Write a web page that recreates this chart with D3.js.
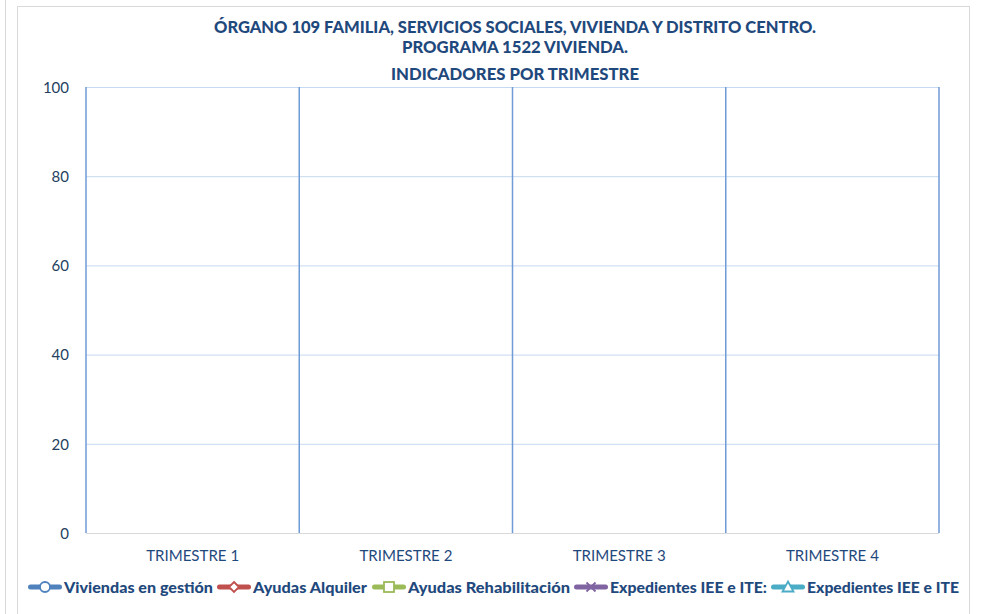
<!DOCTYPE html>
<html><head><meta charset="utf-8">
<script src="https://cdn.jsdelivr.net/npm/d3@7"></script>
<style>body{margin:0;background:#fff}svg{display:block}</style>
</head><body>
<svg id="c" width="981" height="614"></svg>
<script>
const titleLines = ["ÓRGANO 109 FAMILIA, SERVICIOS SOCIALES, VIVIENDA Y DISTRITO CENTRO.", "PROGRAMA 1522 VIVIENDA.", "INDICADORES POR TRIMESTRE"];
const categories = ["TRIMESTRE 1", "TRIMESTRE 2", "TRIMESTRE 3", "TRIMESTRE 4"];
const yTicks = [0, 20, 40, 60, 80, 100];
const seriesNames = ["Viviendas en gestión", "Ayudas Alquiler", "Ayudas Rehabilitación", "Expedientes IEE e ITE:", "Expedientes IEE e ITE"];
const seriesColors = ["#4f81bd", "#c0504d", "#9bbb59", "#8064a2", "#4bacc6"];
const seriesMarkers = ["circle", "diamond", "square", "cross", "triangle"];
const viviendas = [null, null, null, null];
const ayudasAlquiler = [null, null, null, null];
const ayudasRehab = [null, null, null, null];
const expedientes1 = [null, null, null, null];
const expedientes2 = [null, null, null, null];
const seriesValues = [viviendas, ayudasAlquiler, ayudasRehab, expedientes1, expedientes2];

const svg = d3.select("#c");
const textColor = "#1f497d";
const font = "Lato, 'Open Sans', sans-serif";

// outer frames
svg.append("line").attr("x1",5.5).attr("x2",5.5).attr("y1",0).attr("y2",614).attr("stroke","#d9d9d9");
svg.append("rect").attr("x",17.5).attr("y",6.5).attr("width",952).attr("height",640)
  .attr("fill","none").attr("stroke","#d9d9d9");

const x = d3.scaleBand().domain(categories).range([86, 939]).padding(0);
const y = d3.scaleLinear().domain([0, 100]).range([533, 87]);

// title
const titleW = [602, 226, 248];
const titleY = [33, 53, 80];
titleLines.forEach((t,i)=>{
  svg.append("text").attr("x",515).attr("y",titleY[i]).attr("text-anchor","middle")
    .attr("font-family",font).attr("font-weight","900").attr("font-size",16)
    .attr("fill",textColor).attr("textLength",titleW[i]).attr("lengthAdjust","spacingAndGlyphs").text(t);
});

// horizontal gridlines
const g = svg.append("g");
g.selectAll("line.h").data(yTicks.filter(d=>d>0)).join("line")
  .attr("x1",86).attr("x2",939).attr("y1",d=>y(d)+0.5).attr("y2",d=>y(d)+0.5)
  .attr("stroke","#c6d9f1").attr("stroke-width",1);
// zero axis line
g.append("line").attr("x1",86).attr("x2",939).attr("y1",y(0)+0.5).attr("y2",y(0)+0.5)
  .attr("stroke","#d9d9d9").attr("stroke-width",1);
// vertical gridlines at category boundaries
const bounds = categories.map(c=>x(c)).concat([x.range()[1]]);
g.selectAll("line.v").data(bounds).join("line")
  .attr("x1",d=>d).attr("x2",d=>d).attr("y1",y(100)).attr("y2",y(0))
  .attr("stroke","#6f9bd6").attr("stroke-width",1.5);

// y axis labels
const yAxis = d3.axisLeft(y).tickValues(yTicks).tickSize(0).tickPadding(17);
const ya = svg.append("g").attr("transform","translate(86,0)").call(yAxis);
ya.select(".domain").remove();
ya.selectAll("text").attr("font-family",font).attr("font-size",15).attr("fill","#243f60").attr("dy","0.35em");

// x axis labels
const xAxis = d3.axisBottom(x).tickSize(0).tickPadding(0);
const xa = svg.append("g").attr("transform","translate(0,533)").call(xAxis);
xa.select(".domain").remove();
xa.selectAll("text").attr("font-family",font).attr("font-size",15.5).attr("fill",textColor)
  .attr("y",28).attr("dy",0).attr("textLength",93).attr("lengthAdjust","spacingAndGlyphs");

// series lines (no data)
const line = d3.line().defined(d=>d!=null).x((d,i)=>x(categories[i])+x.bandwidth()/2).y(d=>y(d));
seriesValues.forEach((vals,i)=>{
  svg.append("path").datum(vals).attr("d",line).attr("fill","none")
    .attr("stroke",seriesColors[i]).attr("stroke-width",3.5);
});

// legend
function marker(sel, type, color, cx, cy){
  if(type==="circle") sel.append("circle").attr("cx",cx).attr("cy",cy).attr("r",5).attr("fill","#fff").attr("stroke",color).attr("stroke-width",1.8);
  else if(type==="diamond") sel.append("path").attr("d",`M${cx},${cy-5}L${cx+5},${cy}L${cx},${cy+5}L${cx-5},${cy}Z`).attr("fill","#fff").attr("stroke",color).attr("stroke-width",1.8);
  else if(type==="square") sel.append("rect").attr("x",cx-5).attr("y",cy-5).attr("width",10).attr("height",10).attr("fill","#fff").attr("stroke",color).attr("stroke-width",1.8);
  else if(type==="cross") sel.append("path").attr("d",`M${cx-4.5},${cy-4.5}L${cx+4.5},${cy+4.5}M${cx-4.5},${cy+4.5}L${cx+4.5},${cy-4.5}`).attr("stroke",color).attr("stroke-width",1.8);
  else if(type==="triangle") sel.append("path").attr("d",`M${cx},${cy-5.5}L${cx+5.5},${cy+4.5}L${cx-5.5},${cy+4.5}Z`).attr("fill","#fff").attr("stroke",color).attr("stroke-width",1.8);
}
const legX = [28, 217, 372, 574, 771];
const legTextW = [149, 114, 162, 157, 152];
const legY = 587;
const lg = svg.append("g");
seriesNames.forEach((n,i)=>{
  const x0 = legX[i];
  lg.append("line").attr("x1",x0+2.5).attr("x2",x0+31.5).attr("y1",legY).attr("y2",legY)
    .attr("stroke",seriesColors[i]).attr("stroke-width",5).attr("stroke-linecap","round");
  marker(lg, seriesMarkers[i], seriesColors[i], x0+17, legY);
  lg.append("text").attr("x",x0+36).attr("y",legY+5.5).attr("font-family",font).attr("font-weight","900")
    .attr("font-size",15.5).attr("fill",textColor).attr("textLength",legTextW[i]).attr("lengthAdjust","spacingAndGlyphs").text(n);
});
</script>
</body></html>
